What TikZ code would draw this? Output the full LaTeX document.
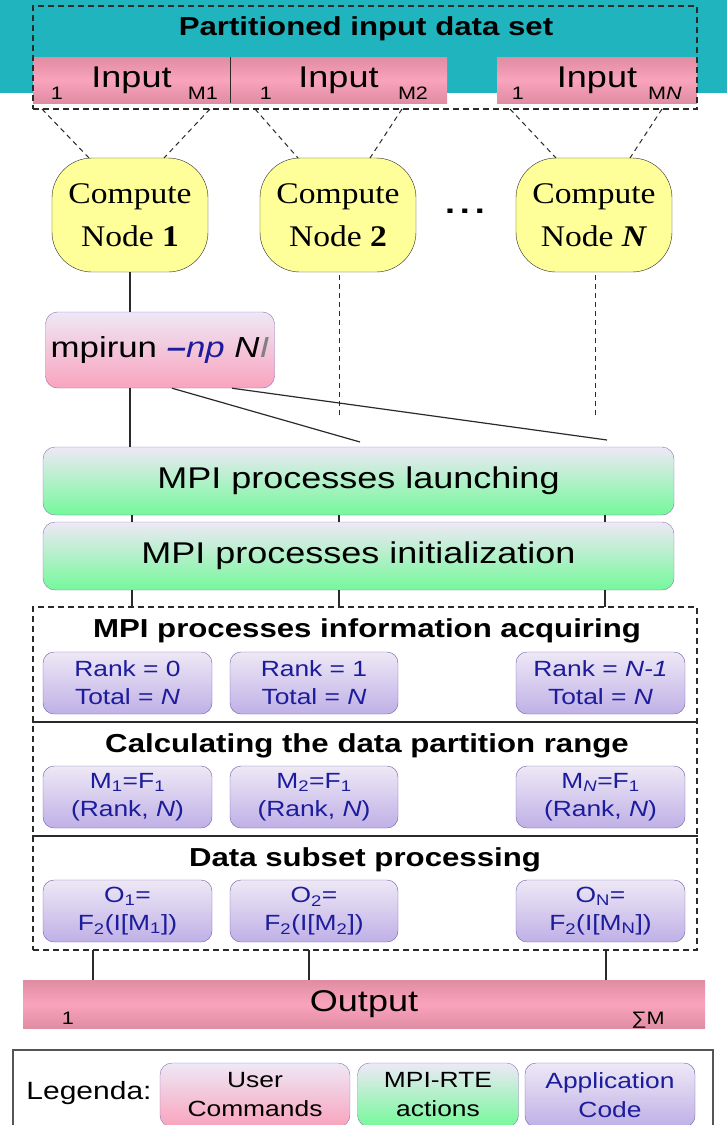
\documentclass[tikz,border=0pt]{standalone}
\usepackage{fontspec}
\setmainfont{Liberation Sans}[FakeStretch=1.2]
\newfontfamily\timesfont{Liberation Serif}[FakeStretch=1.12]
\usetikzlibrary{calc}

\definecolor{bandteal}{HTML}{20B5BE}
\definecolor{pinkedge}{HTML}{E08CA2}
\definecolor{pinkmid}{HTML}{F9A3BD}
\definecolor{lavtop}{HTML}{EEE8F6}
\definecolor{appbot}{HTML}{BFB0E6}
\definecolor{greenbot}{HTML}{74F99A}
\definecolor{boxedge}{HTML}{8A74B4}
\definecolor{appedge}{HTML}{6E5CA8}
\definecolor{apptext}{HTML}{1C1C9C}
\definecolor{nodeyellow}{HTML}{FFFF99}
\definecolor{linegray}{HTML}{2A2A2A}

\tikzset{
  inputbar/.style={inner sep=0pt, top color=pinkedge, bottom color=pinkedge, middle color=pinkmid,
    font=\fontsize{30}{34}\selectfont},
  computebox/.style={draw=linegray, fill=nodeyellow, rounded corners=40pt, inner sep=0pt,
    minimum width=156pt, minimum height=114pt, align=center,
    font=\timesfont\fontsize{30}{43}\selectfont},
  userbox/.style={draw=boxedge, rounded corners=12pt, top color=lavtop, bottom color=pinkmid, inner sep=0pt},
  rtebox/.style={draw=boxedge, rounded corners=12pt, top color=lavtop, bottom color=greenbot, inner sep=0pt,
    align=center},
  appbox/.style={draw=appedge, rounded corners=11pt, top color=lavtop, bottom color=appbot, inner sep=0pt,
    align=center, text=apptext, minimum height=62pt, font=\fontsize{22}{28}\selectfont},
  steptitle/.style={font=\bfseries\fontsize{26}{30}\selectfont},
  link/.style={draw=linegray, line width=1.2pt},
  dlink/.style={draw=linegray, line width=1pt, dash pattern=on 5pt off 4pt},
  groupframe/.style={draw=linegray, line width=1.3pt, dash pattern=on 6pt off 4pt},
  tiny/.style={font=\fontsize{18}{20}\selectfont, inner sep=0pt}
}

\begin{document}
\begin{tikzpicture}[x=1pt, y=-1pt]
\useasboundingbox (0,0) rectangle (727,1125);

% top band with the partitioned data set
\fill[bandteal] (0,0) rectangle (727,93);
\node[font=\bfseries\fontsize{26}{30}\selectfont] (title) at (366,29) {Partitioned input data set};

\node[inputbar, minimum width=197pt, minimum height=46pt] (in1) at (131.5,80) {Input};
\node[inputbar, minimum width=217pt, minimum height=46pt] (in2) at (338.5,80) {Input};
\node[inputbar, minimum width=200pt, minimum height=46pt] (in3) at (597,80) {Input};
\draw[linegray, line width=1.2pt] (in1.north east) -- (in1.south east);

\node[tiny, anchor=base] (in1a) at (57,99) {1};
\node[tiny, anchor=base] (in1b) at (203,99) {M1};
\node[tiny, anchor=base] (in2a) at (266,99) {1};
\node[tiny, anchor=base] (in2b) at (413,99) {M2};
\node[tiny, anchor=base] (in3a) at (518,99) {1};
\node[tiny, anchor=base] (in3b) at (665,99) {M\textit{N}};

\node[groupframe, inner sep=0pt, minimum width=664pt, minimum height=103pt] (dataset) at (365,57.5) {};

% compute nodes
\node[computebox] (cn1) at (130,215) {Compute\\Node \textbf{1}};
\node[computebox] (cn2) at (338,215) {Compute\\Node \textbf{2}};
\node[computebox] (cnN) at (594,215) {Compute\\Node \textbf{\textit{N}}};
\node[font=\bfseries\fontsize{30}{30}\selectfont] (dots) at (465,211) {.\hspace{5pt}.\hspace{5pt}.};

\coordinate (s1a) at (42,109);  \coordinate (e1a) at (89,158);
\coordinate (s1b) at (210,109); \coordinate (e1b) at (164,158);
\coordinate (s2a) at (255,109); \coordinate (e2a) at (298,158);
\coordinate (s2b) at (402,109); \coordinate (e2b) at (370,158);
\coordinate (s3a) at (510,109); \coordinate (e3a) at (556,158);
\coordinate (s3b) at (662,109); \coordinate (e3b) at (630,158);
\foreach \a/\b in {s1a/e1a, s1b/e1b, s2a/e2a, s2b/e2b, s3a/e3a, s3b/e3b}
  \draw[dlink] (\a) -- (\b);

% launcher
\node[userbox, minimum width=229pt, minimum height=76pt, font=\fontsize{29}{34}\selectfont] (mpirun) at (160,350)
  {mpirun \textcolor{apptext}{\itshape\textbf{–}np} \itshape N\textcolor{gray}{I}};

\node[rtebox, minimum width=631pt, minimum height=68pt, font=\fontsize{30}{34}\selectfont] (launch) at (358.5,481)
  {MPI processes launching};
\node[rtebox, minimum width=631pt, minimum height=68pt, font=\fontsize{30}{34}\selectfont] (init) at (358.5,556)
  {MPI processes initialization};

\draw[link] (cn1.south) -- (cn1.south |- mpirun.north);
\draw[link] (cn1.south |- mpirun.south) -- (cn1.south |- launch.north);
\coordinate (d2end) at (339,415);
\coordinate (dNend) at (595,415);
\draw[dlink] ($(cn2.south)+(1,3)$) -- (d2end);
\draw[dlink] ($(cnN.south)+(1,3)$) -- (dNend);
\coordinate (fan2) at (360,442);
\coordinate (fanN) at (607,440);
\draw[link] ($(mpirun.south)+(12,0)$) -- (fan2);
\draw[link] ($(mpirun.south)+(72,0)$) -- (fanN);

% per-process pipeline
\node[groupframe, inner sep=0pt, minimum width=664pt, minimum height=343pt] (pipeline) at (365,778.5) {};
\draw[link] (pipeline.west |- 0,722) -- (pipeline.east |- 0,722);
\draw[link] (pipeline.west |- 0,836) -- (pipeline.east |- 0,836);

\foreach \x in {132,339,605} {
  \draw[link] (\x,515) -- (\x,522);
  \draw[link] (\x,590) -- (\x,607);
}

\node[steptitle] (t1) at (367,631) {MPI processes information acquiring};
\node[steptitle] (t2) at (367,746) {Calculating the data partition range};
\node[steptitle] (t3) at (365,860) {Data subset processing};

\node[appbox, minimum width=169pt] (r1) at (127.5,683) {Rank = 0\\Total = \textit{N}};
\node[appbox, minimum width=168pt] (r2) at (314,683) {Rank = 1\\Total = \textit{N}};
\node[appbox, minimum width=169pt] (rN) at (600.5,683) {Rank = \textit{N-1}\\Total = \textit{N}};

\node[appbox, minimum width=169pt] (m1) at (127.5,797) {M\textsubscript{1}=F\textsubscript{1}\\(Rank, \textit{N})};
\node[appbox, minimum width=168pt] (m2) at (314,797) {M\textsubscript{2}=F\textsubscript{1}\\(Rank, \textit{N})};
\node[appbox, minimum width=169pt] (mN) at (600.5,797) {M\textsubscript{\itshape N}=F\textsubscript{1}\\(Rank, \textit{N})};

\node[appbox, minimum width=169pt] (o1) at (127.5,911) {O\textsubscript{1}=\\F\textsubscript{2}(I[M\textsubscript{1}])};
\node[appbox, minimum width=168pt] (o2) at (314,911) {O\textsubscript{2}=\\F\textsubscript{2}(I[M\textsubscript{2}])};
\node[appbox, minimum width=169pt] (oN) at (600.5,911) {O\textsubscript{N}=\\F\textsubscript{2}(I[M\textsubscript{N}])};

% gathered output
\node[inputbar, minimum width=682pt, minimum height=48pt] (output) at (364,1004) {Output};
\node[tiny, anchor=base] (out1) at (68,1024) {1};
\node[tiny, anchor=base] (outM) at (648,1024) {∑M};
\foreach \x in {93,309,606}
  \draw[link] (\x,950) -- (\x,0 |- output.north);

% legend
\node[draw=linegray!80, line width=2pt, inner sep=0pt, minimum width=700pt, minimum height=86pt] (legend) at (363,1093) {};
\node[font=\fontsize{25}{28}\selectfont] (legtitle) at (89,1093) {Legenda:};
\node[userbox, minimum width=190pt, minimum height=64pt, align=center, font=\fontsize{22}{29}\selectfont] (lguser) at (255,1095) {User\\Commands};
\node[rtebox, minimum width=161pt, minimum height=64pt, font=\fontsize{22}{29}\selectfont] (lgrte) at (438,1095) {MPI-RTE\\actions};
\node[appbox, minimum width=170pt, minimum height=64pt, font=\fontsize{22}{29}\selectfont] (lgapp) at (610,1095) {Application\\Code};
\end{tikzpicture}
\end{document}
